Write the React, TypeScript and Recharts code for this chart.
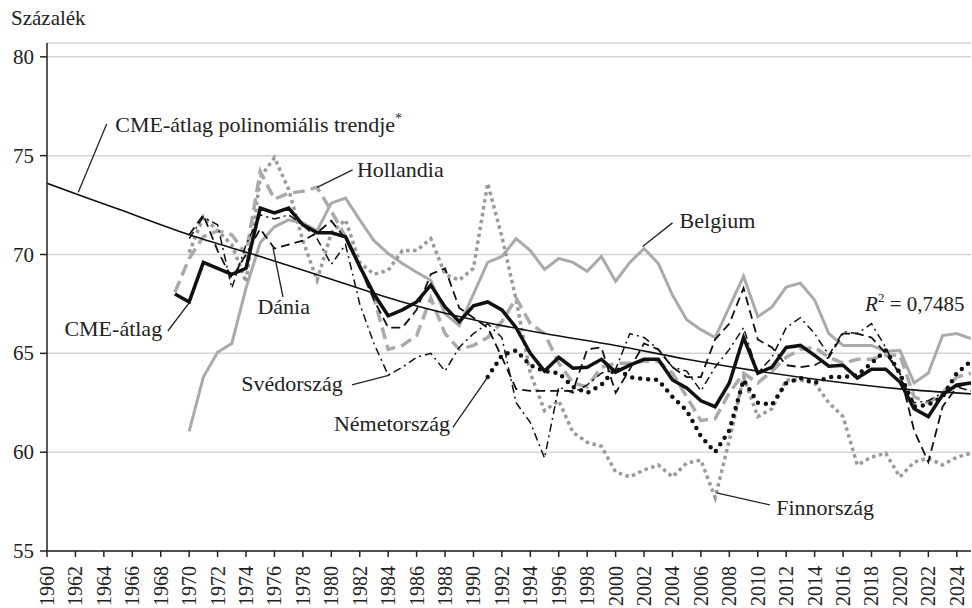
import { LineChart, Line, XAxis, YAxis, CartesianGrid, ReferenceLine, ReferenceDot } from 'recharts';

const years = [
  1969, 1970, 1971, 1972, 1973, 1974, 1975, 1976, 1977, 1978, 1979, 1980, 1981, 1982, 1983, 1984, 1985, 1986, 1987,
  1988, 1989, 1990, 1991, 1992, 1993, 1994, 1995, 1996, 1997, 1998, 1999, 2000, 2001, 2002, 2003, 2004, 2005, 2006,
  2007, 2008, 2009, 2010, 2011, 2012, 2013, 2014, 2015, 2016, 2017, 2018, 2019, 2020, 2021, 2022, 2023, 2024, 2025,
];

const cmeAvg = [
  68.0, 67.6, 69.6, 69.3, 69.0, 69.3, 72.35, 72.1, 72.35, 71.5, 71.1, 71.1, 70.9, 69.4, 68.0, 66.9, 67.2, 67.6, 68.45,
  67.35, 66.6, 67.4, 67.6, 67.2, 66.3, 65.0, 64.1, 64.8, 64.25, 64.3, 64.7, 64.05, 64.4, 64.7, 64.7, 63.65, 63.25, 62.6,
  62.3, 63.5, 65.8, 64.0, 64.3, 65.3, 65.4, 64.9, 64.35, 64.4, 63.75, 64.2, 64.2, 63.55, 62.2, 61.8, 62.9, 63.4, 63.5,
];

const belgium = [
  null, 61.05, 63.8, 65.05, 65.5, 68.3, 70.6, 71.4, 71.75, 71.6, 71.2, 72.6, 72.85, 71.75, 70.7, 70.05, 69.55, 69.1, 68.7,
  67.0, 66.4, 68.0, 69.6, 69.9, 70.8, 70.2, 69.25, 69.8, 69.6, 69.15, 69.9, 68.65, 69.6, 70.3, 69.55, 67.95, 66.7, 66.2,
  65.8, 67.35, 68.9, 66.85, 67.35, 68.35, 68.55, 67.7, 66.0, 65.4, 65.4, 65.4, 65.1, 65.15, 63.5, 64.0, 65.9, 66.0, 65.75,
];

const netherlands = [
  68.1, 69.8, 70.9, 71.2, 71.0, 70.0, 74.2, 72.8, 73.1, 73.2, 73.4, 72.2, 70.9, 69.4, 67.8, 65.2, 65.4, 65.9, 67.8,
  66.0, 65.2, 65.4, 65.8, 66.6, 67.8, 66.5, 66.0, 64.5, 63.5, 63.3, 64.3, 64.5, 64.5, 64.6, 64.6, 64.0, 62.8, 61.6,
  61.7, 63.0, 64.0, 63.5, 64.1, 64.8, 65.2, 65.3, 64.8, 64.5, 64.7, 64.7, 64.9, 64.9, 62.8, 62.5, 63.0, 63.8, 64.0,
];

const denmark = [
  null, 71.0, 72.0, 70.2, 68.8, 70.0, 71.3, 70.3, 70.5, 70.7, 71.1, 71.7, 70.8, 69.4, 67.7, 66.3, 66.3, 67.2, 69.0,
  69.3, 67.3, 66.8, 66.3, 64.8, 63.2, 63.1, 63.1, 63.1, 63.1, 65.2, 65.3, 63.0, 64.2, 65.5, 65.2, 64.3, 63.8, 63.8,
  65.7, 66.5, 68.3, 65.7, 65.3, 64.4, 64.3, 64.4, 64.8, 66.0, 66.0, 65.8, 65.0, 64.0, 61.1, 59.5, 62.3, 63.3, 63.5,
];

const sweden = [
  null, 70.8, 71.9, 71.5, 68.3, 70.5, 72.0, 71.8, 72.0, 71.5, 70.8, 69.5, 70.5, 67.5, 65.5, 63.9, 64.3, 64.8, 65.0,
  64.1, 65.3, 66.0, 66.5, 65.8, 62.5, 61.5, 59.7, 63.3, 63.0, 63.4, 64.0, 64.2, 66.0, 65.8, 65.2, 64.3, 64.1, 63.1,
  64.3, 65.2, 66.3, 64.0, 64.8, 66.3, 66.8, 66.0, 64.9, 66.1, 66.0, 66.5, 65.3, 63.8, 62.5, 62.6, 63.0, 63.3, 63.1,
];

const germany = [
  null, null, null, null, null, null, null, null, null, null, null, null, null, null, null, null, null, null, null,
  null, null, null, 63.8, 64.9, 65.15, 64.4, 64.1, 64.0, 63.3, 63.0, 63.4, 64.25, 63.8, 63.7, 63.65, 62.8, 62.1, 60.8,
  60.0, 61.1, 63.65, 62.5, 62.4, 63.5, 63.75, 63.5, 63.8, 63.8, 63.9, 64.5, 65.15, 64.0, 62.3, 62.4, 62.8, 64.0, 64.6,
];

const finland = [
  null, 70.1, 71.9, 71.2, 70.5, 68.6, 73.9, 74.9, 73.3, 70.7, 68.7, 71.1, 71.75, 69.6, 69.0, 69.2, 70.2, 70.2, 70.8,
  69.0, 68.7, 69.3, 73.6, 70.9, 67.7, 64.0, 62.1, 62.6, 61.0, 60.5, 60.3, 59.0, 58.75, 59.1, 59.35, 58.75, 59.45, 59.6,
  57.7, 60.6, 63.8, 61.8, 62.2, 63.65, 63.65, 63.5, 62.5, 61.8, 59.35, 59.75, 59.95, 58.75, 59.5, 59.7, 59.35, 59.75, 59.95,
];

const trendYears = [1960, 1965, 1970, 1975, 1980, 1985, 1990, 1995, 2000, 2005, 2010, 2015, 2020, 2025];
const trendValues = [73.6, 72.3, 71.0, 69.9, 68.75, 67.6, 66.7, 66.0, 65.4, 64.7, 64.1, 63.6, 63.2, 62.95];

const yearTicks = [
  1960, 1962, 1964, 1966, 1968, 1970, 1972, 1974, 1976, 1978, 1980, 1982, 1984, 1986, 1988, 1990, 1992, 1994, 1996,
  1998, 2000, 2002, 2004, 2006, 2008, 2010, 2012, 2014, 2016, 2018, 2020, 2022, 2024,
];
const valueTicks = [55, 60, 65, 70, 75, 80];

const rows = years.map((year, i) => ({
  year,
  cme: cmeAvg[i],
  belgium: belgium[i],
  netherlands: netherlands[i],
  denmark: denmark[i],
  sweden: sweden[i],
  germany: germany[i],
  finland: finland[i],
}));
const trendRows = trendYears.map((year, i) => ({ year, trend: trendValues[i] }));

const FONT = '"Liberation Serif", "DejaVu Serif", serif';
const INK = '#222';

// series labels with their leader lines, in chart units
const notes = [
  { text: 'CME-átlag polinomiális trendje', star: true, x: 1964.8, y: 76.6, anchor: 'start', from: [1964.2, 76.6], to: [1962.2, 73.15] },
  { text: 'Hollandia', x: 1981.8, y: 74.3, anchor: 'start', from: [1981.5, 74.28], to: [1979.0, 73.4] },
  { text: 'Belgium', x: 2004.5, y: 71.7, anchor: 'start', from: [2004.0, 71.6], to: [2001.9, 70.4] },
  { text: 'Dánia', x: 1974.8, y: 67.35, anchor: 'start', from: [1976.6, 67.85], to: [1975.9, 70.33] },
  { text: 'CME-átlag', x: 1968.1, y: 66.28, anchor: 'end', from: [1968.5, 66.13], to: [1970.05, 67.6] },
  { text: 'Svédország', x: 1980.8, y: 63.45, anchor: 'end', from: [1981.45, 63.4], to: [1984.1, 63.9] },
  { text: 'Németország', x: 1988.35, y: 61.45, anchor: 'end', from: [1988.55, 61.25], to: [1991.0, 63.8] },
  { text: 'Finnország', x: 2011.3, y: 57.2, anchor: 'start', from: [2010.85, 57.33], to: [2007.1, 57.94] },
];

const YearTick = ({ x, y, payload }: any) => (
  <text
    x={x}
    y={y}
    transform={`rotate(-90 ${x} ${y})`}
    textAnchor="end"
    dominantBaseline="central"
    fontSize={20}
    fontFamily={FONT}
    fill={INK}
  >
    {payload.value}
  </text>
);

const ValueTick = ({ x, y, payload }: any) => (
  <text x={x} y={y} textAnchor="end" dy="0.34em" fontSize={21} fontFamily={FONT} fill={INK}>
    {payload.value}
  </text>
);

const noteShape = (n: any) => (p: any) => (
  <text x={p.cx} y={p.cy} dy="0.34em" textAnchor={n.anchor} fontSize={22} fontFamily={FONT} fill={INK}>
    {n.text}
    {n.star && (
      <tspan dy={-9} fontSize={14}>
        *
      </tspan>
    )}
  </text>
);

const r2Shape = (p: any) => (
  <text x={p.cx} y={p.cy} dy="0.34em" fontSize={21} fontFamily={FONT} fill={INK}>
    <tspan fontStyle="italic">R</tspan>
    <tspan dy={-9} fontSize={13}>
      2
    </tspan>
    <tspan dy={9}> = 0,7485</tspan>
  </text>
);

export default function App() {
  return (
    <div style={{ position: 'absolute', left: 0, top: 0, width: 972, height: 608, background: '#fff' }}>
      <div style={{ position: 'absolute', left: 11, top: 6, fontSize: 21, fontFamily: FONT, color: INK }}>Százalék</div>
      <LineChart width={972} height={608} data={rows} margin={{ top: 43, right: 1, bottom: 0, left: 0 }}>
        <CartesianGrid vertical={false} stroke="#d4d4d4" strokeWidth={1.5} />
        <XAxis
          dataKey="year"
          type="number"
          domain={[1960, 2025]}
          ticks={yearTicks}
          interval={0}
          height={57}
          tick={<YearTick />}
          tickSize={6}
          tickMargin={9}
          axisLine={{ stroke: INK, strokeWidth: 1.5 }}
          tickLine={{ stroke: INK, strokeWidth: 1.5 }}
          allowDataOverflow
        />
        <YAxis
          type="number"
          domain={[55, 80.7]}
          ticks={valueTicks}
          width={47}
          tick={<ValueTick />}
          tickSize={7}
          tickMargin={6}
          axisLine={{ stroke: INK, strokeWidth: 1.5 }}
          tickLine={{ stroke: INK, strokeWidth: 1.5 }}
          allowDataOverflow
        />
        <Line dataKey="belgium" stroke="#aaaaaa" strokeWidth={3} dot={false} isAnimationActive={false} />
        <Line dataKey="finland" stroke="#9a9a9a" strokeWidth={3.5} strokeDasharray="3.5 3.5" dot={false} isAnimationActive={false} />
        <Line dataKey="netherlands" stroke="#aaaaaa" strokeWidth={3.5} strokeDasharray="12 6" dot={false} isAnimationActive={false} />
        <Line dataKey="denmark" stroke="#111" strokeWidth={1.8} strokeDasharray="9 5" dot={false} isAnimationActive={false} />
        <Line dataKey="sweden" stroke="#111" strokeWidth={1.5} strokeDasharray="8 4 2 4" dot={false} isAnimationActive={false} />
        <Line
          dataKey="germany"
          stroke="#111"
          strokeWidth={4.5}
          strokeDasharray="0 8"
          strokeLinecap="round"
          dot={false}
          isAnimationActive={false}
        />
        <Line data={trendRows} dataKey="trend" type="monotone" stroke="#111" strokeWidth={1.6} dot={false} isAnimationActive={false} />
        <Line dataKey="cme" stroke="#111" strokeWidth={3.5} dot={false} isAnimationActive={false} />
        {notes.map((n) => (
          <ReferenceLine
            key={'l' + n.text}
            segment={[
              { x: n.from[0], y: n.from[1] },
              { x: n.to[0], y: n.to[1] },
            ]}
            stroke={INK}
            strokeWidth={1.3}
          />
        ))}
        {notes.map((n) => (
          <ReferenceDot key={'t' + n.text} x={n.x} y={n.y} r={0} shape={noteShape(n)} />
        ))}
        <ReferenceDot x={2017.55} y={67.5} r={0} shape={r2Shape} />
      </LineChart>
    </div>
  );
}
